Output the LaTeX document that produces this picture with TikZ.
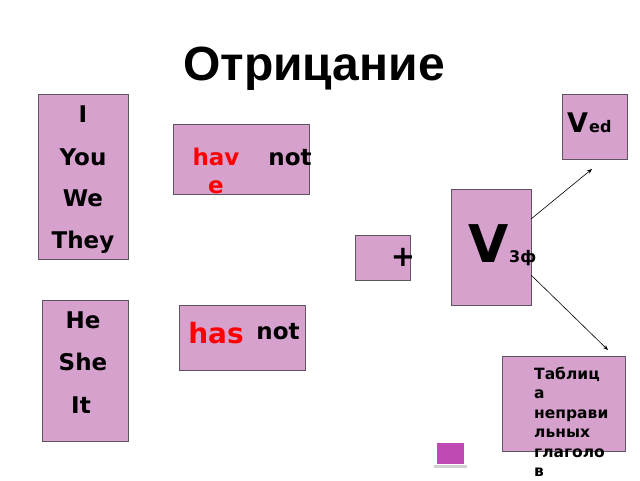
\documentclass[tikz,border=0pt]{standalone}
\usepackage{fontspec}
\usetikzlibrary{arrows.meta}
\setmainfont{DejaVu Sans}
\newfontfamily\titlefont{Liberation Sans}
\begin{document}
\begin{tikzpicture}[x=1pt,y=-1pt,
  pbox/.style={draw=bordergray, line width=1pt, fill=pinkfill},
  txt/.style={inner sep=0pt, anchor=base, font=\bfseries\fontsize{23}{26}\selectfont},
  arr/.style={-{Stealth[length=5pt,width=4pt]}, line width=0.6pt}]
\definecolor{pinkfill}{HTML}{D6A1CD}
\definecolor{bordergray}{HTML}{5E5560}
\definecolor{sq}{HTML}{C04AB4}
\useasboundingbox (0,0) rectangle (640,480);
\fill[white] (0,0) rectangle (640,480);
\node[inner sep=0pt, anchor=base, font=\titlefont\bfseries\fontsize{48}{52}\selectfont] (title) at (314,80) {Отрицание};
% pronoun box 1
\draw[pbox] (38,94) rectangle (128,259);
\node[txt] (i) at (83,122) {I};
\node[txt] (you) at (83,165) {You};
\node[txt] (we) at (83,206) {We};
\node[txt] (they) at (83,248) {They};
% have not
\draw[pbox] (173,124) rectangle (309,194);
\node[txt, text=red] (hav) at (216,165) {hav};
\node[txt, text=red] (e) at (216,193) {e};
\node[txt] (not1) at (290,165) {not};
% pronoun box 2
\draw[pbox] (42,300) rectangle (128,441);
\node[txt] (he) at (83,328) {He};
\node[txt] (she) at (83,370) {She};
\node[txt] (it) at (81,413) {It};
% has not
\draw[pbox] (179,305) rectangle (305,370);
\node[txt, text=red, font=\bfseries\fontsize{28}{30}\selectfont] (has) at (216,343) {has};
\node[txt] (not2) at (278,339) {not};
% plus
\draw[pbox] (355,235) rectangle (410,280);
\node[inner sep=0pt, font=\bfseries\fontsize{29}{32}\selectfont] (plus) at (403,257) {+};
% V3f
\draw[pbox] (451,189) rectangle (531,305);
\coordinate (v3a) at (531,219);
\coordinate (v3b) at (531,275);
\node[txt, font=\bfseries\fontsize{52}{56}\selectfont] (V) at (489,262) {V};
\node[txt, anchor=base west, font=\bfseries\fontsize{16}{18}\selectfont] (zf) at (509,262) {3ф};
% Ved
\draw[pbox] (562,94) rectangle (627,159);
\node[txt, anchor=base west, font=\bfseries\fontsize{27}{30}\selectfont] (Ved) at (567,132) {V};
\node[txt, anchor=base west, font=\bfseries\fontsize{16}{18}\selectfont] (ed) at (589,132) {ed};
\coordinate (e1) at (592,169);
\coordinate (e2) at (608,350);
\draw[arr] (v3a) -- (e1);
\draw[arr] (v3b) -- (e2);
% table
\draw[pbox] (502,356) rectangle (625,451);
\node[inner sep=0pt, anchor=north west, align=left, font=\bfseries\fontsize{15.5}{19.5}\selectfont] (tab) at (534,367) {Таблиц\\а\\неправи\\льных\\глаголо\\в};
% small square button
\fill[white!82!black] (434,465) rectangle (467,468);
\fill[sq] (437,443) rectangle (464,464);
\end{tikzpicture}
\end{document}
